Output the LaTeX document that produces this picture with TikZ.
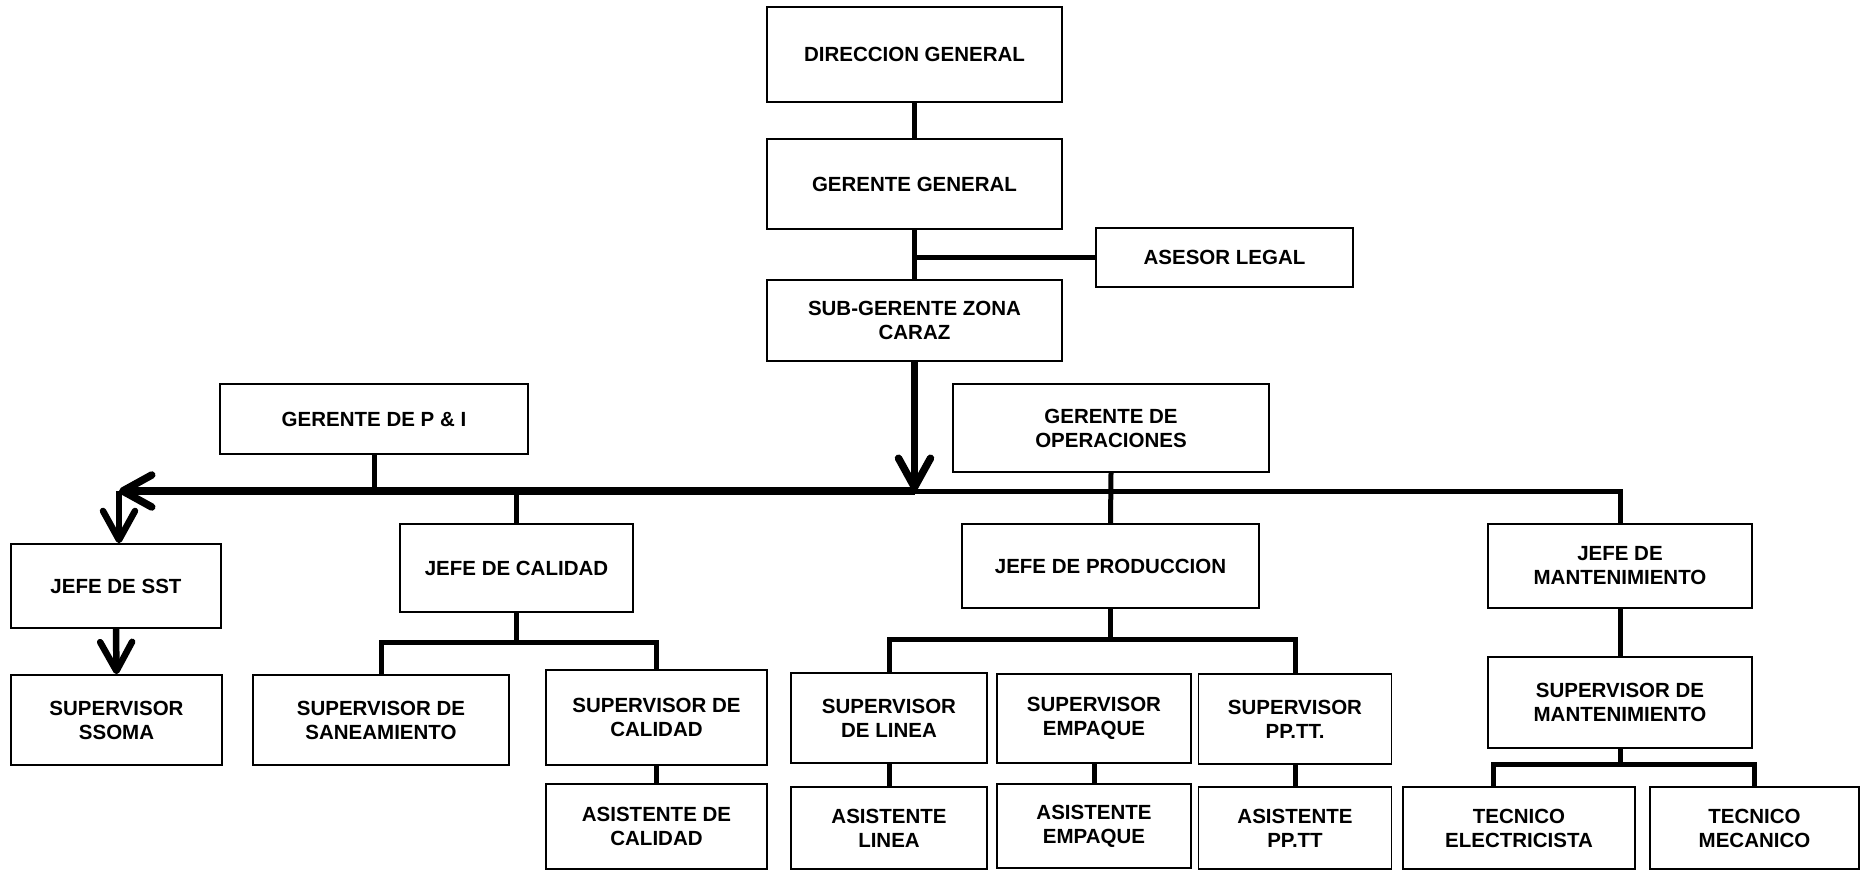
\documentclass[tikz,border=0pt]{standalone}
\usepackage{fontspec}
\setmainfont{Liberation Sans}
\usetikzlibrary{arrows.meta}
\begin{document}
\begin{tikzpicture}[x=1pt,y=-1pt,
  box/.style={draw, line width=1.6pt, rectangle, align=center, inner sep=0pt,
    font=\bfseries\fontsize{20.5}{24}\selectfont},
  conn/.style={line width=5pt},
  arrconn/.style={line width=6.5pt},
  bigconn/.style={line width=7.5pt},
  barb/.style={-{Straight Barb[length=29pt,width=32pt,round]}}]
\useasboundingbox (0,0) rectangle (1860,870);
% top chain
\node[box, minimum width=295pt, minimum height=95pt] (dir) at (914.5,54.5) {DIRECCION GENERAL};
\node[box, minimum width=295pt, minimum height=90pt] (gg) at (914.5,184) {GERENTE GENERAL};
\node[box, minimum width=257pt, minimum height=59pt] (ase) at (1224.5,257.5) {ASESOR LEGAL};
\node[box, minimum width=295pt, minimum height=81pt] (sub) at (914.5,320.5) {SUB-GERENTE ZONA\\CARAZ};
\node[box, minimum width=308pt, minimum height=70pt] (pi) at (374,419) {GERENTE DE P \& I};
\node[box, minimum width=316pt, minimum height=88pt] (ops) at (1111,428) {GERENTE DE\\OPERACIONES};
% second level
\node[box, minimum width=210pt, minimum height=84pt] (sst) at (116,586) {JEFE DE SST};
\node[box, minimum width=233pt, minimum height=88pt] (cal) at (516.5,568) {JEFE DE CALIDAD};
\node[box, minimum width=297pt, minimum height=84pt] (prod) at (1110.5,566) {JEFE DE PRODUCCION};
\node[box, minimum width=264pt, minimum height=84pt] (mant) at (1620,566) {JEFE DE\\MANTENIMIENTO};
% third level
\node[box, minimum width=211pt, minimum height=90pt] (ssoma) at (116.5,720) {SUPERVISOR\\SSOMA};
\node[box, minimum width=256pt, minimum height=90pt] (san) at (381,720) {SUPERVISOR DE\\SANEAMIENTO};
\node[box, minimum width=221pt, minimum height=95pt] (supcal) at (656.5,717.5) {SUPERVISOR DE\\CALIDAD};
\node[box, minimum width=196pt, minimum height=90pt] (supline) at (889,718) {SUPERVISOR\\DE LINEA};
\node[box, minimum width=194pt, minimum height=89pt] (supemp) at (1094,718.5) {SUPERVISOR\\EMPAQUE};
\node[box, minimum width=193pt, minimum height=90pt] (suppp) at (1295,719) {SUPERVISOR\\PP.TT.};
\node[box, minimum width=264pt, minimum height=91pt] (supmant) at (1620,702.5) {SUPERVISOR DE\\MANTENIMIENTO};
% fourth level
\node[box, minimum width=221pt, minimum height=85pt] (asiscal) at (656.5,826.5) {ASISTENTE DE\\CALIDAD};
\node[box, minimum width=196pt, minimum height=82pt] (asisline) at (889,828) {ASISTENTE\\LINEA};
\node[box, minimum width=194pt, minimum height=84pt] (asisemp) at (1094,826) {ASISTENTE\\EMPAQUE};
\node[box, minimum width=193pt, minimum height=82pt] (asispp) at (1295,828) {ASISTENTE\\PP.TT};
\node[box, minimum width=232pt, minimum height=82pt] (tecele) at (1519,828) {TECNICO\\ELECTRICISTA};
\node[box, minimum width=209pt, minimum height=82pt] (tecmec) at (1754.5,828) {TECNICO\\MECANICO};
% junction coordinates
\coordinate (busC) at (914.5,491);
\coordinate (busL) at (119,491);
\coordinate (calj) at (516.5,642);
\coordinate (prodj) at (1110.5,639);
\coordinate (mantj) at (1620,764);
% connectors
\draw[conn] (dir.south) -- (gg.north);
\draw[conn] (gg.south) -- (sub.north);
\draw[conn] (ase.west) -- (ase.west -| gg.south);
\draw[bigconn, barb] (sub.south) -- (busC);
\draw[bigconn, barb] (busC) -- (busL);
\draw[arrconn, barb] (busL) -- (busL |- sst.north);
\draw[arrconn, barb] (sst.south) -- (ssoma.north);
\draw[conn] (pi.south) -- (pi.south |- busC);
\draw[conn] (busC) -- (cal.north |- busC) -- (cal.north);
\draw[conn] (busC) -| (mant.north);
\draw[conn] (ops.south) -- (prod.north);
\draw[conn] (cal.south) -- (calj);
\draw[conn] (san.north) |- (supcal.north |- calj) -- (supcal.north);
\draw[conn] (prod.south) -- (prodj);
\draw[conn] (supline.north) |- (suppp.north |- prodj) -- (suppp.north);
\draw[conn] (supcal.south) -- (asiscal.north);
\draw[conn] (supline.south) -- (asisline.north);
\draw[conn] (supemp.south) -- (asisemp.north);
\draw[conn] (suppp.south) -- (asispp.north);
\draw[conn] (mant.south) -- (supmant.north);
\draw[conn] (supmant.south) -- (mantj);
\draw[conn] ([xshift=-26pt]tecele.north) |- (tecmec.north |- mantj) -- (tecmec.north);
\end{tikzpicture}
\end{document}
